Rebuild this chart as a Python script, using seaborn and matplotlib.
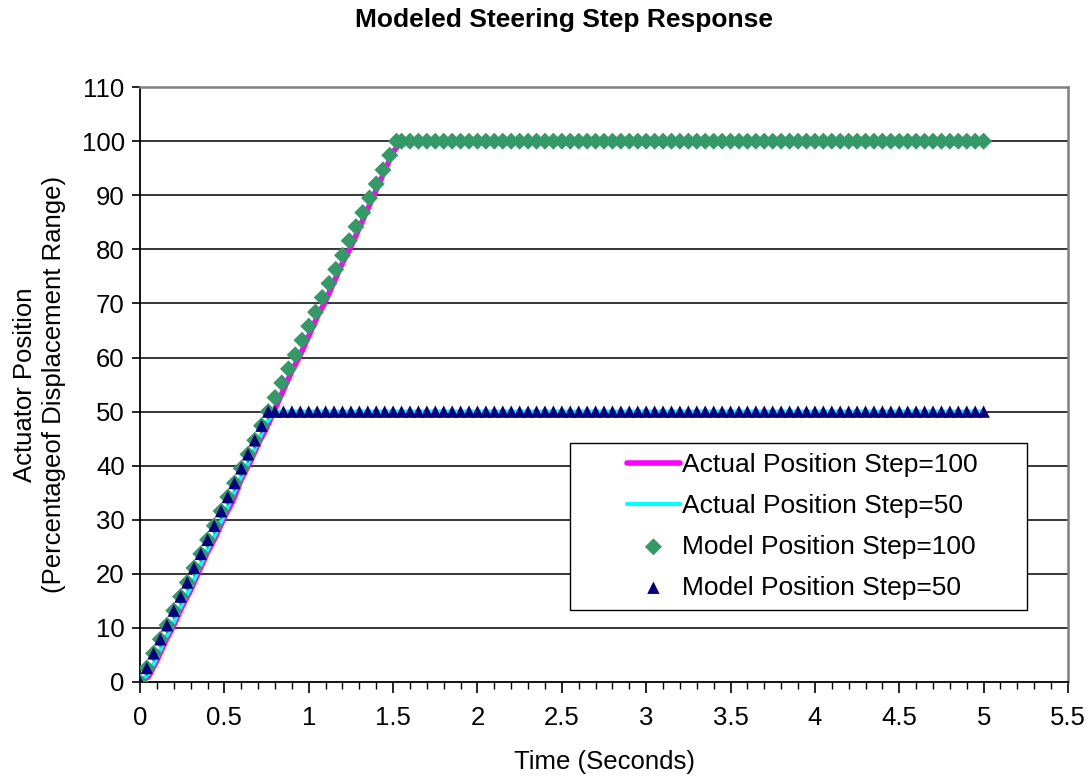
import matplotlib
matplotlib.use("Agg")
import matplotlib.pyplot as plt
from matplotlib.patches import Rectangle
from matplotlib.ticker import MultipleLocator
import seaborn as sns

# measured actuator position (sparser samples, % of displacement range)
t_act100 = [0, 0.05, 0.10, 0.15, 0.20, 0.25, 0.30, 0.35, 0.40, 0.45, 0.50, 0.55,
            0.60, 0.65, 0.70, 0.75, 0.80, 0.85, 0.90, 0.95, 1.00, 1.05, 1.10, 1.15,
            1.20, 1.25, 1.30, 1.35, 1.40, 1.45, 1.50, 1.55, 5.00]
act100 = [0, 1.0, 4.0, 7.5, 10.5, 14.0, 17.0, 20.5, 24.0, 27.0, 30.5, 33.5,
          37.5, 40.5, 44.0, 47.0, 50.5, 54.0, 57.5, 60.5, 64.0, 67.5, 70.5, 74.0,
          77.5, 80.5, 84.0, 87.5, 91.0, 94.5, 98.0, 100.0, 100.0]
t_act50 = [0, 0.05, 0.10, 0.15, 0.20, 0.25, 0.30, 0.35, 0.40, 0.45, 0.50, 0.55,
           0.60, 0.65, 0.70, 0.75, 0.80, 5.00]
act50 = [0, 1.5, 4.5, 8.0, 11.0, 14.5, 17.5, 21.0, 24.5, 27.5, 31.0, 34.5,
         38.0, 41.0, 44.5, 48.0, 50.0, 50.0]

# model output
t_mod100 = [0, 0.04, 0.08, 0.12, 0.16, 0.20, 0.24, 0.28, 0.32, 0.36, 0.40, 0.44,
            0.48, 0.52, 0.56, 0.60, 0.64, 0.68, 0.72, 0.76, 0.80, 0.84, 0.88, 0.92,
            0.96, 1.00, 1.04, 1.08, 1.12, 1.16, 1.20, 1.24, 1.28, 1.32, 1.36, 1.40,
            1.44, 1.48, 1.52,
            1.55, 1.60, 1.65, 1.70, 1.75, 1.80, 1.85, 1.90, 1.95, 2.00, 2.05, 2.10,
            2.15, 2.20, 2.25, 2.30, 2.35, 2.40, 2.45, 2.50, 2.55, 2.60, 2.65, 2.70,
            2.75, 2.80, 2.85, 2.90, 2.95, 3.00, 3.05, 3.10, 3.15, 3.20, 3.25, 3.30,
            3.35, 3.40, 3.45, 3.50, 3.55, 3.60, 3.65, 3.70, 3.75, 3.80, 3.85, 3.90,
            3.95, 4.00, 4.05, 4.10, 4.15, 4.20, 4.25, 4.30, 4.35, 4.40, 4.45, 4.50,
            4.55, 4.60, 4.65, 4.70, 4.75, 4.80, 4.85, 4.90, 4.95, 5.00]
mod100 = [0, 2.6, 5.3, 7.9, 10.5, 13.2, 15.8, 18.4, 21.1, 23.7, 26.3, 28.9,
          31.6, 34.2, 36.8, 39.5, 42.1, 44.7, 47.4, 50.0, 52.6, 55.3, 57.9, 60.5,
          63.2, 65.8, 68.4, 71.1, 73.7, 76.3, 78.9, 81.6, 84.2, 86.8, 89.5, 92.1,
          94.7, 97.4, 100,
          100, 100, 100, 100, 100, 100, 100, 100, 100, 100, 100, 100,
          100, 100, 100, 100, 100, 100, 100, 100, 100, 100, 100, 100,
          100, 100, 100, 100, 100, 100, 100, 100, 100, 100, 100, 100,
          100, 100, 100, 100, 100, 100, 100, 100, 100, 100, 100, 100,
          100, 100, 100, 100, 100, 100, 100, 100, 100, 100, 100, 100,
          100, 100, 100, 100, 100, 100, 100, 100, 100, 100]
t_mod50 = [0, 0.04, 0.08, 0.12, 0.16, 0.20, 0.24, 0.28, 0.32, 0.36, 0.40, 0.44,
           0.48, 0.52, 0.56, 0.60, 0.64, 0.68, 0.72, 0.76,
           0.80, 0.85, 0.90, 0.95, 1.00, 1.05, 1.10, 1.15, 1.20, 1.25, 1.30, 1.35,
           1.40, 1.45, 1.50, 1.55, 1.60, 1.65, 1.70, 1.75, 1.80, 1.85, 1.90, 1.95,
           2.00, 2.05, 2.10, 2.15, 2.20, 2.25, 2.30, 2.35, 2.40, 2.45, 2.50, 2.55,
           2.60, 2.65, 2.70, 2.75, 2.80, 2.85, 2.90, 2.95, 3.00, 3.05, 3.10, 3.15,
           3.20, 3.25, 3.30, 3.35, 3.40, 3.45, 3.50, 3.55, 3.60, 3.65, 3.70, 3.75,
           3.80, 3.85, 3.90, 3.95, 4.00, 4.05, 4.10, 4.15, 4.20, 4.25, 4.30, 4.35,
           4.40, 4.45, 4.50, 4.55, 4.60, 4.65, 4.70, 4.75, 4.80, 4.85, 4.90, 4.95,
           5.00]
mod50 = [0, 2.6, 5.3, 7.9, 10.5, 13.2, 15.8, 18.4, 21.1, 23.7, 26.3, 28.9,
         31.6, 34.2, 36.8, 39.5, 42.1, 44.7, 47.4, 50.0,
         50, 50, 50, 50, 50, 50, 50, 50, 50, 50, 50, 50,
         50, 50, 50, 50, 50, 50, 50, 50, 50, 50, 50, 50,
         50, 50, 50, 50, 50, 50, 50, 50, 50, 50, 50, 50,
         50, 50, 50, 50, 50, 50, 50, 50, 50, 50, 50, 50,
         50, 50, 50, 50, 50, 50, 50, 50, 50, 50, 50, 50,
         50, 50, 50, 50, 50, 50, 50, 50, 50, 50, 50, 50,
         50, 50, 50, 50, 50, 50, 50, 50, 50, 50, 50, 50,
         50]

x_ticks = [0, 0.5, 1, 1.5, 2, 2.5, 3, 3.5, 4, 4.5, 5, 5.5]
x_ticklabels = ['0', '0.5', '1', '1.5', '2', '2.5', '3', '3.5', '4', '4.5', '5', '5.5']

sns.set_style("white")
plt.rcParams['font.family'] = ['Liberation Sans', 'DejaVu Sans']
plt.rcParams['text.color'] = 'black'
plt.rcParams['axes.labelcolor'] = 'black'
plt.rcParams['xtick.color'] = 'black'
plt.rcParams['ytick.color'] = 'black'

fig = plt.figure(figsize=(10.88, 7.78), dpi=100)
ax = fig.add_axes([0.1287, 0.1234, 0.8529, 0.7646])

# horizontal grid lines
for yv in range(10, 111, 10):
    ax.axhline(yv, color='black', lw=1.1, zorder=0)

sns.lineplot(x=t_act100, y=act100, color='#ff00ff', lw=4, ax=ax,
             label='Actual Position Step=100', zorder=2)
sns.lineplot(x=t_act50, y=act50, color='#00ffff', lw=3, ax=ax,
             label='Actual Position Step=50', zorder=3)
sns.scatterplot(x=t_mod100, y=mod100, marker='D', s=75, color='#339966',
                edgecolor='none', ax=ax, label='Model Position Step=100', zorder=4)
sns.scatterplot(x=t_mod50, y=mod50, marker='^', s=80, color='#000080',
                edgecolor='none', ax=ax, label='Model Position Step=50', zorder=5)

ax.set_xlim(0, 5.5)
ax.set_ylim(0, 110)
ax.set_xticks(x_ticks)
ax.set_xticklabels(x_ticklabels)
ax.xaxis.set_minor_locator(MultipleLocator(0.1))
ax.yaxis.set_major_locator(MultipleLocator(10))
ax.tick_params(axis='x', which='major', direction='out', length=8, width=1.2,
               labelsize=18.5, pad=9, bottom=True)
ax.tick_params(axis='x', which='minor', direction='out', length=5, width=1,
               bottom=True)
ax.tick_params(axis='y', which='major', direction='out', length=6, width=1.2,
               labelsize=18.5, pad=5, left=True)

for side in ['left', 'bottom']:
    ax.spines[side].set_color('black')
    ax.spines[side].set_linewidth(1.3)
for side in ['top', 'right']:
    ax.spines[side].set_color('#808080')
    ax.spines[side].set_linewidth(1.8)

ax.set_xlabel('Time (Seconds)', fontsize=18.5)
ax.xaxis.set_label_coords(0.5, -0.115)
ax.set_ylabel('Actuator Position\n(Percentageof Displacement Range)', fontsize=18.5,
              linespacing=1.25)
ax.yaxis.set_label_coords(-0.08, 0.5)
fig.suptitle('Modeled Steering Step Response', fontsize=19, fontweight='bold',
             x=0.518, y=0.99)

# legend box (wider on the left than the entries need, like the original)
ax.add_patch(Rectangle((0.4634, 0.121), 0.4924, 0.2807, transform=ax.transAxes,
                       facecolor='white', edgecolor='black', lw=1.0, zorder=6))
leg = ax.legend(loc='upper left', bbox_to_anchor=(0.5248, 0.385), fontsize=19,
                frameon=False, borderpad=0, labelspacing=0.64, handlelength=2.0,
                handletextpad=0.1, borderaxespad=0)
leg.set_zorder(7)

fig.savefig('out.png', dpi=100)
